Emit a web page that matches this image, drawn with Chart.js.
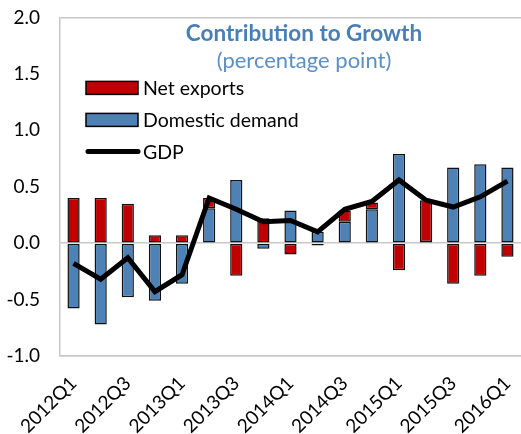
<!DOCTYPE html>
<html>
<head>
<meta charset="utf-8">
<script src="https://cdn.jsdelivr.net/npm/chart.js@4"></script>
<style>
  html, body { margin: 0; padding: 0; background: #fff; }
  #wrap { width: 521px; height: 434px; }
</style>
</head>
<body>
<div id="wrap"><canvas id="c"></canvas></div>
<script>
const quarters = [
  "2012Q1", "2012Q2", "2012Q3", "2012Q4", "2013Q1", "2013Q2", "2013Q3", "2013Q4",
  "2014Q1", "2014Q2", "2014Q3", "2014Q4", "2015Q1", "2015Q2", "2015Q3", "2015Q4", "2016Q1"
];
const netExports = [0.40, 0.40, 0.35, 0.07, 0.07, 0.09, -0.29, 0.22, -0.10, -0.02, 0.10, 0.06, -0.24, 0.37, -0.36, -0.29, -0.12];
const domesticDemand = [-0.58, -0.72, -0.48, -0.51, -0.36, 0.31, 0.56, -0.05, 0.29, 0.10, 0.19, 0.30, 0.79, 0.01, 0.67, 0.70, 0.67];
const gdp = [-0.18, -0.32, -0.13, -0.43, -0.28, 0.40, 0.30, 0.19, 0.20, 0.10, 0.30, 0.37, 0.56, 0.38, 0.32, 0.41, 0.55];

const titleText = "Contribution to Growth";
const subtitleText = "(percentage point)";
const legendOrder = ["Net exports", "Domestic demand", "GDP"];

const RED = "#c00000";
const BLUE = "#4e81b5";
const FONT = "Lato";

// title and legend sit inside the plot area, so draw them by hand
const insideText = {
  id: "insideText",
  afterDraw(chart) {
    const { ctx, chartArea } = chart;
    const x0 = chartArea.left;
    const y0 = chartArea.top;
    ctx.save();
    ctx.textAlign = "center";
    ctx.textBaseline = "alphabetic";
    ctx.fillStyle = "#4a7fb5";
    ctx.font = `bold 22.5px ${FONT}`;
    ctx.fillText(titleText, x0 + 244, y0 + 24);
    ctx.fillStyle = "#5b8fc6";
    ctx.font = `22px ${FONT}`;
    ctx.fillText(subtitleText, x0 + 244, y0 + 51);

    ctx.textAlign = "left";
    ctx.textBaseline = "middle";
    ctx.font = `19.5px ${FONT}`;
    legendOrder.forEach((label, i) => {
      const ds = chart.data.datasets.find((d) => d.label === label);
      const cy = y0 + 70 + i * 32;
      if (ds.type === "line") {
        ctx.strokeStyle = "#000";
        ctx.lineWidth = 5;
        ctx.lineCap = "round";
        ctx.beginPath();
        ctx.moveTo(x0 + 28, cy);
        ctx.lineTo(x0 + 78, cy);
        ctx.stroke();
      } else {
        ctx.fillStyle = ds.backgroundColor;
        ctx.fillRect(x0 + 26, cy - 6, 52, 13);
        ctx.strokeStyle = "#000";
        ctx.lineWidth = 1.5;
        ctx.strokeRect(x0 + 26, cy - 6, 52, 13);
      }
      ctx.fillStyle = "#000";
      ctx.fillText(label, x0 + 83, cy + 1);
    });
    ctx.restore();
  }
};

new Chart(document.getElementById("c"), {
  data: {
    labels: quarters,
    datasets: [
      {
        type: "line",
        label: "GDP",
        data: gdp,
        borderColor: "#000",
        borderWidth: 5,
        pointRadius: 0,
        tension: 0,
        order: 0,
        stack: "gdp"
      },
      {
        type: "bar",
        label: "Domestic demand",
        data: domesticDemand,
        backgroundColor: BLUE,
        borderColor: "#111",
        borderWidth: 1.5,
        borderSkipped: false,
        barPercentage: 0.9,
        categoryPercentage: 0.5,
        order: 1
      },
      {
        type: "bar",
        label: "Net exports",
        data: netExports,
        backgroundColor: RED,
        borderColor: "#111",
        borderWidth: 1.5,
        borderSkipped: false,
        barPercentage: 0.9,
        categoryPercentage: 0.5,
        order: 1
      }
    ]
  },
  options: {
    responsive: true,
    maintainAspectRatio: false,
    animation: false,
    layout: { padding: { top: 0, left: 6, right: 0, bottom: 0 } },
    plugins: {
      legend: { display: false },
      tooltip: { enabled: false }
    },
    scales: {
      x: {
        stacked: true,
        offset: true,
        afterFit: (axis) => {
          axis.height = 78;
          axis.paddingRight = 0; // let the plot run to the right edge
        },
        grid: { display: false },
        border: { color: "#c8c8c8", width: 1.5 },
        ticks: {
          autoSkip: false,
          maxRotation: 45,
          minRotation: 45,
          color: "#000",
          font: { family: FONT, size: 19 },
          padding: 8,
          callback: (v, i) => (i % 2 === 0 ? quarters[i] : "")
        }
      },
      y: {
        stacked: true,
        min: -1,
        max: 2,
        afterFit: (axis) => { axis.width = 54; },
        ticks: {
          stepSize: 0.5,
          color: "#000",
          font: { family: FONT, size: 19 },
          padding: 6,
          callback: (v) => v.toFixed(1)
        },
        border: { color: "#c8c8c8", width: 1.5 },
        grid: {
          drawTicks: true,
          tickLength: 14,
          tickColor: "rgba(0,0,0,0)",
          lineWidth: 1.5,
          color: (ctx) => ([2, 0, -1].includes(ctx.tick.value) ? "#c8c8c8" : "rgba(0,0,0,0)")
        }
      }
    }
  },
  plugins: [insideText]
});
</script>
</body>
</html>
